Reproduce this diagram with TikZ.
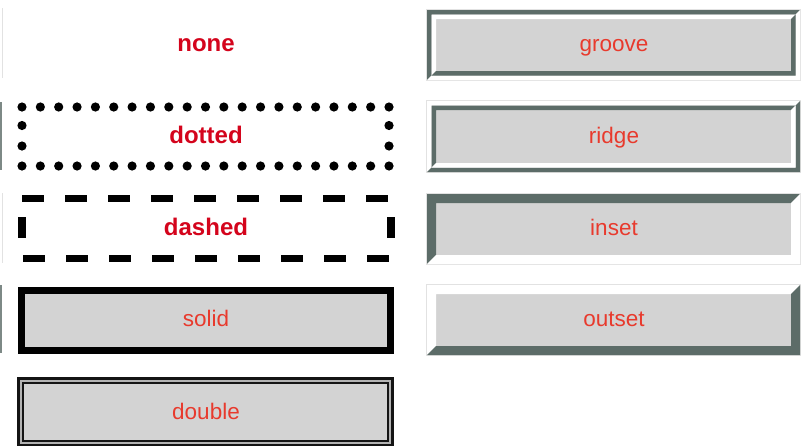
\documentclass[tikz,border=0pt]{standalone}
\usepackage{fontspec}
\setmainfont{Liberation Sans}
\definecolor{bdark}{RGB}{92,108,104}
\definecolor{bfill}{RGB}{211,211,211}
\definecolor{hair}{RGB}{226,226,226}
\definecolor{redA}{RGB}{212,4,28}
\definecolor{redB}{RGB}{232,58,45}
\newcommand\mybevel[7]{%
  \fill[#6] (#1,#2) -- (#3,#2) -- ({#3-#5},{#2+#5}) -- ({#1+#5},{#2+#5}) -- ({#1+#5},{#4-#5}) -- (#1,#4) -- cycle;
  \fill[#7] (#3,#4) -- (#1,#4) -- ({#1+#5},{#4-#5}) -- ({#3-#5},{#4-#5}) -- ({#3-#5},{#2+#5}) -- (#3,#2) -- cycle;}
\tikzset{
  boldlbl/.style={anchor=base, inner sep=0pt, text=redA, font=\fontsize{24}{28}\selectfont\bfseries},
  reglbl/.style={anchor=base, inner sep=0pt, text=redB, font=\fontsize{22.5}{27}\selectfont},
  hairline/.style={draw=hair, line width=0.8pt},
  dotmark/.style={fill=black},
  dashline/.style={line width=7pt, dash pattern=on 21.5pt off 21.5pt},
}
\begin{document}
\begin{tikzpicture}[x=1pt,y=-1pt]
\useasboundingbox[fill=white] (0,0) rectangle (802,445);
\clip (0,0) rectangle (802,445);
% remnants at far left
\fill[hair] (1.8,8) rectangle (3,78);
\fill[bdark!80] (0,102) rectangle (2,170);
\fill[hair] (1.8,193) rectangle (3,263);
\fill[bdark!80] (0,285) rectangle (2,353);
% none
\node[boldlbl] (none) at (206,51.7) {none};
% dotted
\foreach \i in {0,...,20} {
  \fill[dotmark] ({22+18.35*\i},107) circle (4.6);
  \fill[dotmark] ({22+18.35*\i},166) circle (4.6);
}
\foreach \yy in {125.5,146} {
  \fill[dotmark] (22,\yy) circle (4.6);
  \fill[dotmark] (389,\yy) circle (4.6);
}
\node[boldlbl] (dotted) at (206,143.3) {dotted};
% dashed
\draw[dashline] (22,198) -- (387.5,198);
\draw[dashline] (23.3,258) -- (388.8,258);
\fill (18,217) rectangle (26,238);
\fill (387,217) rectangle (395,238);
\node[boldlbl] (dashed) at (206,235.5) {dashed};
% solid
\draw[fill=bfill, line width=7pt] (21.5,290.5) rectangle (390.5,350.5);
\node[reglbl] (solid) at (206,326.7) {solid};
% double
\fill[bfill!85!black] (17,377) rectangle (394,447);
\fill[bfill] (24,384) rectangle (387,440);
\draw[line width=2.6pt, draw=black!92] (18.3,378.3) rectangle (392.7,445.7);
\draw[line width=2.4pt, draw=black!92] (23,383) rectangle (388,441);
\node[reglbl] (double) at (206,419) {double};
% groove
\draw[hairline] (426.6,9.6) rectangle (800.4,80.4);
\fill[bfill] (427,10) rectangle (800,80);
\mybevel{427}{10}{800}{80}{4.5}{bdark}{white}
\mybevel{431.5}{14.5}{795.5}{75.5}{4.5}{white}{bdark}
\node[reglbl] (groove) at (614,51.7) {groove};
% ridge
\draw[hairline] (426.6,100.6) rectangle (800.4,172.4);
\fill[bfill] (427,101) rectangle (800,172);
\mybevel{427}{101}{800}{172}{4.5}{white}{bdark}
\mybevel{431.5}{105.5}{795.5}{167.5}{4.5}{bdark}{white}
\node[reglbl] (ridge) at (614,143.3) {ridge};
% inset
\draw[hairline] (426.6,193.6) rectangle (800.4,264.4);
\fill[bfill] (427,194) rectangle (800,264);
\mybevel{427}{194}{800}{264}{9}{bdark}{white}
\node[reglbl] (inset) at (614,235.2) {inset};
% outset
\draw[hairline] (426.6,284.6) rectangle (800.4,355.4);
\fill[bfill] (427,285) rectangle (800,355);
\mybevel{427}{285}{800}{355}{9}{white}{bdark}
\node[reglbl] (outset) at (614,326.7) {outset};
\end{tikzpicture}
\end{document}
